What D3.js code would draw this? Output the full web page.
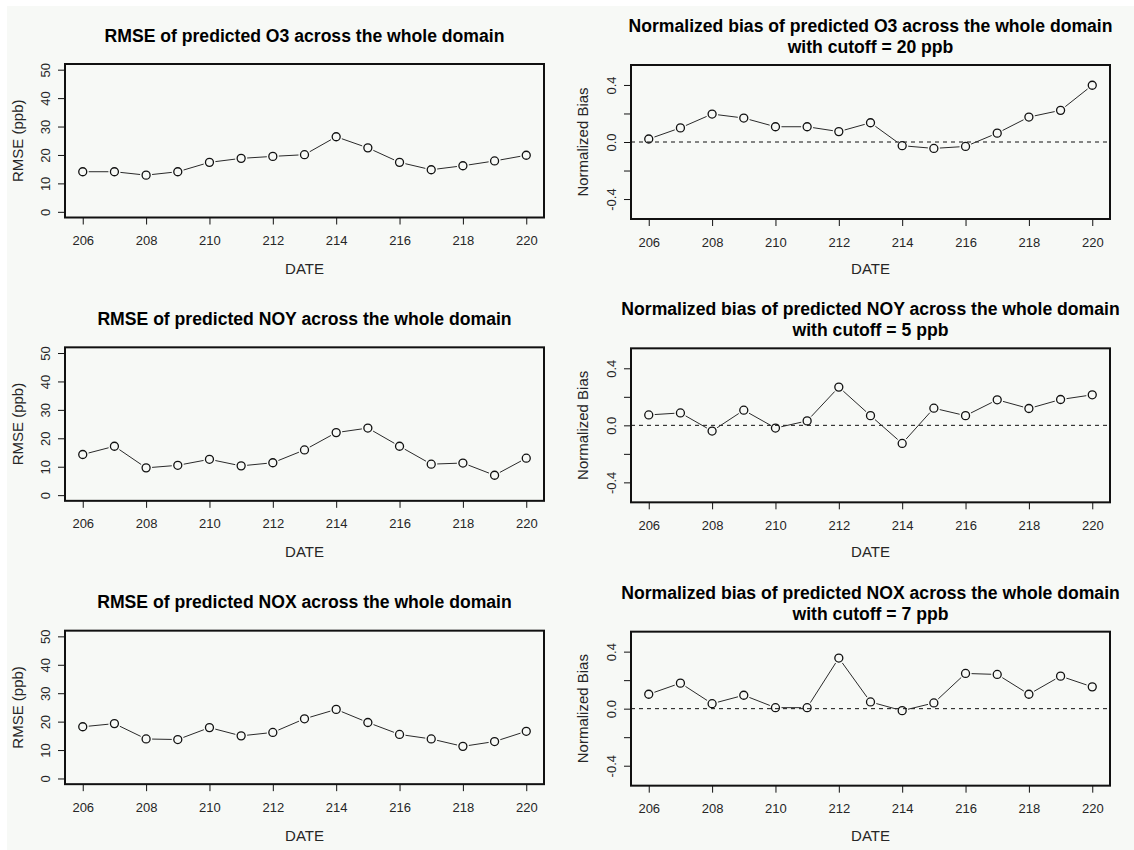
<!DOCTYPE html>
<html>
<head>
<meta charset="utf-8">
<script src="https://cdn.jsdelivr.net/npm/d3@7"></script>
<style>
  html, body { margin: 0; padding: 0; background: #ffffff; }
  svg { display: block; }
  text { font-family: "Liberation Sans", Arial, Helvetica, sans-serif; }
</style>
</head>
<body>
<svg id="chart" width="1134" height="850"></svg>
<script>
// Julian day of each evaluation
const dates = [206, 207, 208, 209, 210, 211, 212, 213, 214, 215, 216, 217, 218, 219, 220];

// Root mean square error (ppb)
const rmseO3  = [14.1, 14.1, 12.9, 14.1, 17.4, 18.8, 19.5, 20.1, 26.4, 22.5, 17.4, 14.8, 16.2, 17.9, 19.9];
const rmseNOY = [14.3, 17.2, 9.6, 10.5, 12.6, 10.3, 11.4, 15.9, 22.0, 23.6, 17.2, 10.9, 11.3, 7.0, 13.0];
const rmseNOX = [18.2, 19.3, 13.9, 13.7, 17.9, 15.0, 16.2, 21.0, 24.3, 19.7, 15.5, 13.9, 11.3, 13.0, 16.6];

// Normalized bias
const biasO3  = [0.021, 0.099, 0.196, 0.168, 0.107, 0.107, 0.073, 0.135, -0.026, -0.045, -0.031, 0.062, 0.175, 0.222, 0.398];
const biasNOY = [0.073, 0.087, -0.040, 0.106, -0.019, 0.031, 0.268, 0.068, -0.127, 0.120, 0.068, 0.179, 0.118, 0.181, 0.214];
const biasNOX = [0.101, 0.179, 0.035, 0.094, 0.007, 0.007, 0.355, 0.047, -0.014, 0.040, 0.247, 0.240, 0.101, 0.228, 0.153];

// Axis ticks
const dateTicks = [206, 208, 210, 212, 214, 216, 218, 220];
const rmseTicks = [0, 10, 20, 30, 40, 50];
const biasTicks = [-0.4, -0.2, 0, 0.2, 0.4];
const biasTickLabels = new Map([[-0.4, "-0.4"], [0, "0.0"], [0.4, "0.4"]]);

const rmseTitles = [
  ["RMSE of predicted O3 across the whole domain"],
  ["RMSE of predicted NOY across the whole domain"],
  ["RMSE of predicted NOX across the whole domain"]
];
const biasTitles = [
  ["Normalized bias of predicted O3 across the whole domain", "with cutoff = 20 ppb"],
  ["Normalized bias of predicted NOY across the whole domain", "with cutoff = 5 ppb"],
  ["Normalized bias of predicted NOX across the whole domain", "with cutoff = 7 ppb"]
];

const rmseSeries = [rmseO3, rmseNOY, rmseNOX];
const biasSeries = [biasO3, biasNOY, biasNOX];

const svg = d3.select("#chart");
const W = 1134, H = 850, rowH = H / 3;

svg.append("rect")
  .attr("x", 7).attr("y", 6)
  .attr("width", W - 7).attr("height", H - 6)
  .attr("fill", "#f7f9f6");

const boxes = {
  rmse: { x0: 65,  x1: 544,  y0: 64, y1: 217.5, domain: [-2, 52],       ylab: "RMSE (ppb)",      ylabX: 23 },
  bias: { x0: 631, x1: 1110, y0: 65, y1: 219,   domain: [-0.54, 0.54],  ylab: "Normalized Bias", ylabX: 588 }
};

const INK = "#111";
const LABEL = "#262626";

function drawPanel(row, kind, values, titleLines) {
  const b = boxes[kind];
  const g = svg.append("g").attr("transform", `translate(0,${row * rowH})`);

  const x = d3.scaleLinear().domain([205.44, 220.56]).range([b.x0, b.x1]);
  const y = d3.scaleLinear().domain(b.domain).range([b.y1, b.y0]);

  // bottom axis
  const xa = g.append("g")
    .attr("transform", `translate(0,${b.y1})`)
    .call(d3.axisBottom(x).tickValues(dateTicks).tickFormat(d3.format("d")).tickSize(7).tickSizeOuter(0));
  xa.select(".domain").remove();
  xa.selectAll(".tick line").attr("stroke", INK);
  xa.selectAll(".tick text")
    .attr("y", 27.5).attr("dy", null)
    .attr("fill", LABEL).style("font-size", "13px");

  // left axis
  const ya = g.append("g")
    .attr("transform", `translate(${b.x0},0)`)
    .call(d3.axisLeft(y)
      .tickValues(kind === "rmse" ? rmseTicks : biasTicks)
      .tickFormat(kind === "rmse" ? d3.format("d") : (d => biasTickLabels.get(Math.round(d * 10) / 10) || ""))
      .tickSize(7).tickSizeOuter(0));
  ya.select(".domain").remove();
  ya.selectAll(".tick line").attr("stroke", INK);
  ya.selectAll(".tick text")
    .attr("x", 0).attr("dy", null)
    .attr("text-anchor", "middle")
    .attr("transform", "translate(-15,0) rotate(-90)")
    .attr("fill", LABEL).style("font-size", "13px");

  // reference line at zero bias
  if (kind === "bias") {
    g.append("line")
      .attr("x1", b.x0).attr("x2", b.x1)
      .attr("y1", y(0)).attr("y2", y(0))
      .attr("stroke", INK).attr("stroke-width", 1)
      .attr("stroke-dasharray", "4,4");
  }

  // connecting segments, stopped short of each marker
  const pts = dates.map((d, i) => [x(d), y(values[i])]);
  const gap = 6;
  const seg = d3.line();
  for (let i = 0; i < pts.length - 1; i++) {
    const [ax, ay] = pts[i], [bx, by] = pts[i + 1];
    const dx = bx - ax, dy = by - ay, L = Math.hypot(dx, dy);
    if (L <= 2 * gap) continue;
    const ux = dx / L, uy = dy / L;
    g.append("path")
      .attr("d", seg([[ax + ux * gap, ay + uy * gap], [bx - ux * gap, by - uy * gap]]))
      .attr("stroke", "#2a2a2a").attr("stroke-width", 1).attr("fill", "none");
  }

  // markers
  g.selectAll("circle.pt")
    .data(dates.map((d, i) => ({ d, v: values[i] })))
    .join("circle")
    .attr("class", "pt")
    .attr("cx", p => x(p.d)).attr("cy", p => y(p.v))
    .attr("r", 4)
    .attr("fill", "none").attr("stroke", INK).attr("stroke-width", 1.3);

  // plot frame
  g.append("rect")
    .attr("x", b.x0).attr("y", b.y0)
    .attr("width", b.x1 - b.x0).attr("height", b.y1 - b.y0)
    .attr("fill", "none").attr("stroke", INK).attr("stroke-width", 2);

  // titles
  const cx = (b.x0 + b.x1) / 2;
  const baselines = titleLines.length === 1 ? [41.5] : [32, 53];
  titleLines.forEach((t, i) => {
    g.append("text")
      .attr("x", cx).attr("y", baselines[i])
      .attr("text-anchor", "middle")
      .style("font-size", "17.6px").style("font-weight", "bold")
      .attr("fill", "#000")
      .text(t);
  });

  g.append("text")
    .attr("x", cx).attr("y", 274)
    .attr("text-anchor", "middle")
    .style("font-size", "15px")
    .attr("fill", LABEL)
    .text("DATE");

  g.append("text")
    .attr("transform", `translate(${b.ylabX},${(b.y0 + b.y1) / 2}) rotate(-90)`)
    .attr("text-anchor", "middle")
    .style("font-size", "15px")
    .attr("fill", LABEL)
    .text(b.ylab);
}

for (let r = 0; r < 3; r++) {
  drawPanel(r, "rmse", rmseSeries[r], rmseTitles[r]);
  drawPanel(r, "bias", biasSeries[r], biasTitles[r]);
}
</script>
</body>
</html>
